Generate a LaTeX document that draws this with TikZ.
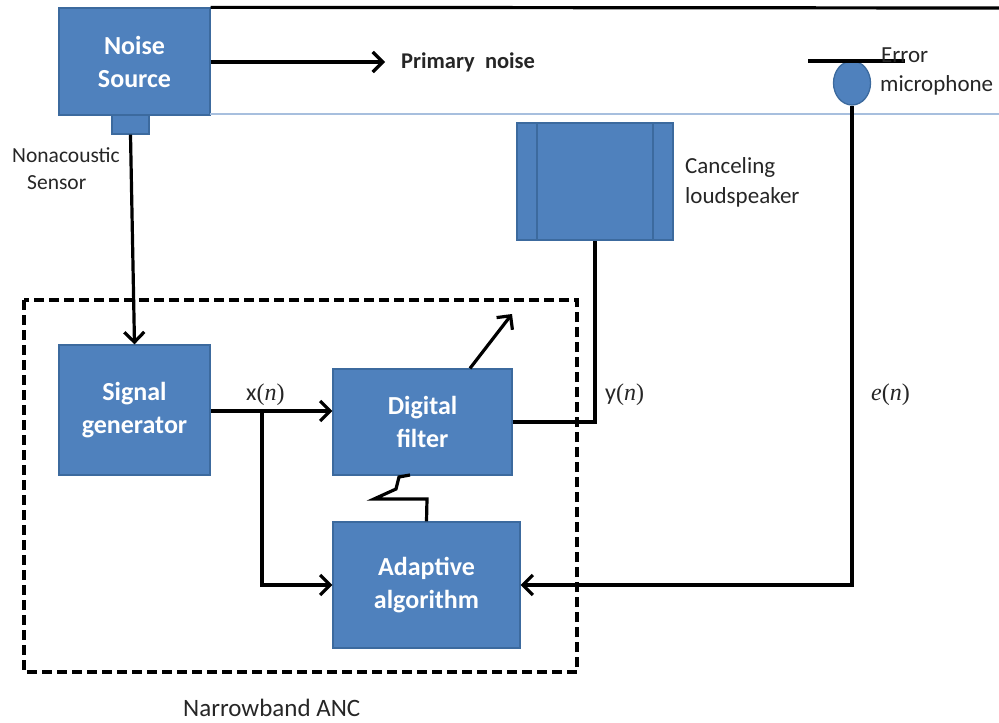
\documentclass[tikz,border=0pt]{standalone}
\usepackage{fontspec}
\setmainfont{Carlito}
\newfontfamily\mathserif{Liberation Serif}
\usetikzlibrary{arrows.meta,shapes.geometric}
\definecolor{boxfill}{HTML}{4F81BD}
\definecolor{boxedge}{HTML}{3C6A9E}
\definecolor{rule}{HTML}{A7BFDE}
\definecolor{labelgray}{HTML}{262626}
\newcommand{\sig}[1]{{\mathserif(\textit{#1})}}
\tikzset{
  block/.style={draw=boxedge, line width=1.3pt, fill=boxfill, text=white,
    font=\fontsize{26}{33}\selectfont\bfseries, align=center, inner sep=0pt},
  wire/.style={line width=3.2pt, black},
  flow/.style={wire, -{Straight Barb[length=10pt,width=20pt,line width=3.2pt]}},
  lbl/.style={font=\fontsize{23}{30}\selectfont, text=labelgray, align=left, inner sep=0pt},
}
\begin{document}
\begin{tikzpicture}[x=1pt,y=-1pt]
\useasboundingbox (0,0) rectangle (999,723);

% blocks
\node[block, minimum width=151pt, minimum height=107pt] (ns) at (134.5,61.5) {Noise\\Source};
\node[block, minimum width=37pt, minimum height=19pt] (sensor) at (130.5,124.5) {};
\node[block, minimum width=151pt, minimum height=130pt] (sg) at (134.5,410) {Signal\\generator};
\node[block, minimum width=179pt, minimum height=106pt] (df) at (422.5,422) {Digital\\filter};
\node[block, minimum width=187pt, minimum height=126pt] (aa) at (426.5,585) {Adaptive\\algorithm};
\node[block, minimum width=156pt, minimum height=117pt] (ls) at (595,181.5) {};
\draw[boxedge, line width=1.6pt] (537,123) -- (537,240) (653,123) -- (653,240);

% error microphone
\node[draw=boxedge, line width=1.3pt, fill=boxfill, ellipse, minimum width=37pt, minimum height=44pt, inner sep=0pt] (mic) at (852,83) {};
\coordinate (barL) at (808,61);
\coordinate (barR) at (905,61);
\draw[wire] (barL) -- (barR);

% duct walls
\coordinate (topR) at (999,8);
\draw[wire] (ns.north east) -- (topR);
\coordinate (wallL) at (210,114);
\coordinate (wallR) at (999,114);
\draw[rule, line width=1.4pt] (wallL) -- (wallR);

% primary noise
\coordinate (pn) at (385,62);
\draw[flow] (ns.east |- pn) -- (pn);
\node[lbl, font=\fontsize{22.5}{27}\selectfont\bfseries, anchor=west] (pnl) at (401,62) {Primary\ \ noise};

% labels
\node[lbl, font=\fontsize{21.5}{28}\selectfont, anchor=west] (nsl1) at (12,155) {Nonacoustic};
\node[lbl, font=\fontsize{21.5}{28}\selectfont, anchor=west] (nsl2) at (27,183) {Sensor};
\node[lbl, anchor=west] (mict) at (881,55) {Error};
\node[lbl, anchor=west] (micb) at (880,85) {microphone};
\node[lbl, anchor=west] (lsl) at (685,182) {Canceling\\loudspeaker};
\node[lbl, font=\fontsize{24}{28}\selectfont, anchor=west] (xl) at (246,395) {x\sig{n}};
\node[lbl, font=\fontsize{24}{28}\selectfont, anchor=west] (yl) at (605,395) {y\sig{n}};
\node[lbl, font=\fontsize{24}{28}\selectfont, anchor=west] (el) at (871,395) {{\mathserif\textit{e}}\sig{n}};
\node[lbl, anchor=base west, font=\fontsize{25}{30}\selectfont] (anc) at (183,716) {Narrowband ANC};

% narrowband ANC boundary
\draw[line width=3.2pt, dash pattern=on 10pt off 5pt] (24,300) rectangle (577,672);

% signal paths
\draw[flow] (sensor.south) -- (sg.north);
\coordinate (xin) at (sg.east |- 0,411);
\draw[flow] (xin) -- (xin -| df.west);
\coordinate (br) at (262,411);
\draw[flow] (br) |- (aa.west);
\draw[wire] (df.east) -| (ls.south);
\draw[flow] (mic.south) |- (aa.east);
\coordinate (adj) at (512,314);
\draw[flow] (df.north -| 470,0) -- (adj);
\draw[wire, line join=miter] (aa.north) -- (427,499) -- (374,499) -- (396,489) -- (399,477) -- (410,475);
\end{tikzpicture}
\end{document}
